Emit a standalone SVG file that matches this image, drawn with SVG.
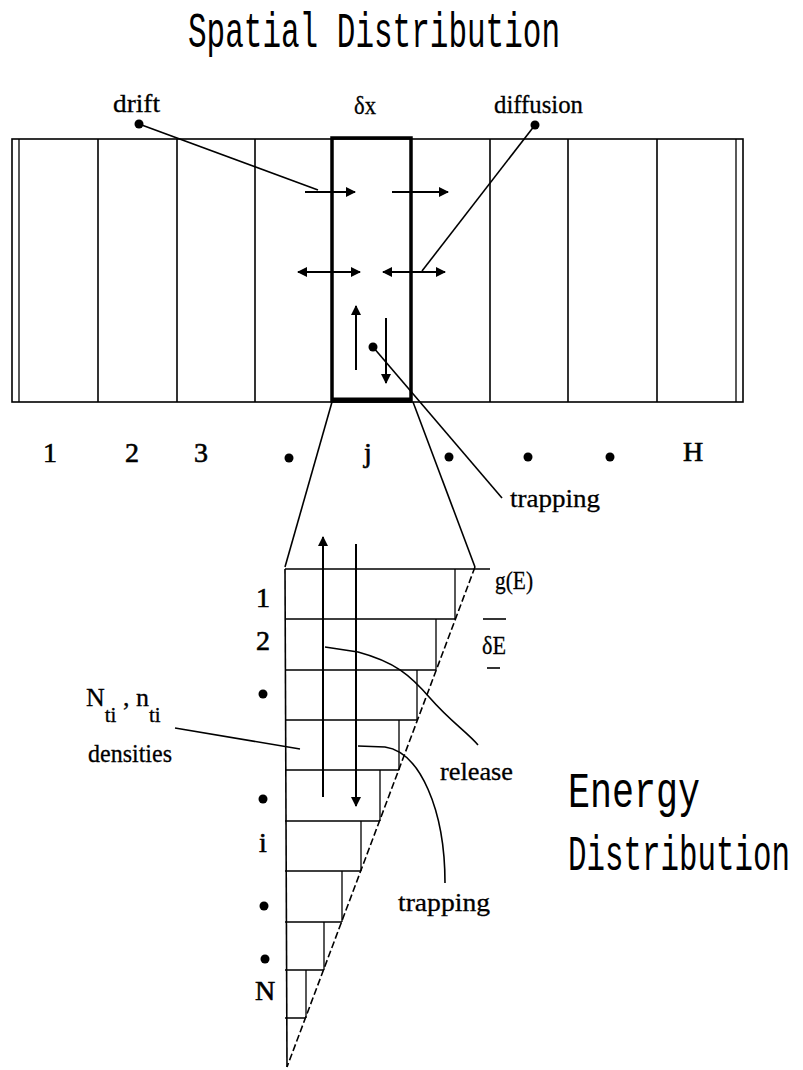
<svg xmlns="http://www.w3.org/2000/svg" width="803" height="1070" viewBox="0 0 803 1070">
<style>
.ln{stroke:#000;stroke-width:1.6;fill:none}
.thin{stroke:#000;stroke-width:1.3;fill:none}
.bold{stroke:#000;stroke-width:3.5;fill:none}
.dash{stroke:#000;stroke-width:1.6;fill:none;stroke-dasharray:7 3}
.lab{font-family:"Liberation Serif","DejaVu Serif",serif;font-size:26px;fill:#000;stroke:#000;stroke-width:0.3}
.num{font-family:"Liberation Serif","DejaVu Serif",serif;font-size:28px;fill:#000;stroke:#000;stroke-width:0.6}
.big{font-family:"Liberation Mono","DejaVu Sans Mono",monospace;font-size:31px;fill:#000}
.arr{stroke:#000;stroke-width:2;fill:none}
</style>
<defs>
<marker id="ah" viewBox="0 0 10 10" refX="9" refY="5" markerWidth="11" markerHeight="10" markerUnits="userSpaceOnUse" orient="auto-start-reverse">
<path d="M0,0 L10,5 L0,10 Z" fill="#000"/>
</marker>
</defs>
<rect width="803" height="1070" fill="#fff"/>

<g id="titles">
<text class="big" transform="translate(188,47) scale(1,1.6)" x="0" y="0" textLength="372" lengthAdjust="spacingAndGlyphs">Spatial Distribution</text>
<text class="big" transform="translate(568,807) scale(1,1.6)" x="0" y="0" textLength="132" lengthAdjust="spacingAndGlyphs">Energy</text>
<text class="big" transform="translate(568,870) scale(1,1.6)" x="0" y="0" textLength="222" lengthAdjust="spacingAndGlyphs">Distribution</text>
</g>

<g id="spatial-bar">
<rect class="ln" x="12" y="139" width="731" height="263"/>
<line class="thin" x1="19" y1="139" x2="19" y2="402"/>
<line class="thin" x1="736" y1="139" x2="736" y2="402"/>
<line class="ln" x1="98" y1="139" x2="98" y2="402"/>
<line class="ln" x1="177" y1="139" x2="177" y2="402"/>
<line class="ln" x1="255" y1="139" x2="255" y2="402"/>
<line class="ln" x1="490" y1="139" x2="490" y2="402"/>
<line class="ln" x1="568" y1="139" x2="568" y2="402"/>
<line class="ln" x1="657" y1="139" x2="657" y2="402"/>
</g>

<g id="cell-j">
<rect class="bold" x="332" y="138" width="79" height="263"/>
<line stroke="#000" stroke-width="5" x1="332" y1="400" x2="411" y2="400"/>
<line class="arr" x1="305" y1="192" x2="355" y2="192" marker-end="url(#ah)"/>
<line class="arr" x1="392" y1="192" x2="448" y2="192" marker-end="url(#ah)"/>
<line class="arr" x1="298" y1="272" x2="360" y2="272" marker-start="url(#ah)" marker-end="url(#ah)"/>
<line class="arr" x1="383" y1="272" x2="445" y2="272" marker-start="url(#ah)" marker-end="url(#ah)"/>
<line class="arr" x1="356" y1="370" x2="356" y2="306" marker-end="url(#ah)"/>
<line class="arr" x1="386" y1="318" x2="386" y2="383" marker-end="url(#ah)"/>
<text class="lab" x="354" y="114" textLength="22" lengthAdjust="spacingAndGlyphs">δx</text>
</g>

<g id="cell-labels">
<text class="num" x="50" y="462" text-anchor="middle">1</text>
<text class="num" x="132" y="462" text-anchor="middle">2</text>
<text class="num" x="201" y="462" text-anchor="middle">3</text>
<circle cx="289" cy="458" r="4.5"/>
<text class="num" x="368" y="462" text-anchor="middle">j</text>
<circle cx="449" cy="457" r="4.5"/>
<circle cx="528" cy="457" r="4.5"/>
<circle cx="610" cy="457" r="4.5"/>
<text class="num" x="693" y="461" text-anchor="middle">H</text>
</g>

<g id="label-drift">
<text class="lab" x="113" y="112" textLength="47" lengthAdjust="spacingAndGlyphs">drift</text>
<circle cx="139" cy="124" r="4.5"/>
</g>
<g id="label-diffusion">
<text class="lab" x="494" y="113" textLength="89" lengthAdjust="spacingAndGlyphs">diffusion</text>
<circle cx="535" cy="125" r="4.5"/>
</g>
<g id="label-trapping-top">
<circle cx="373" cy="347" r="4.5"/>
<text class="lab" x="510" y="507" textLength="90" lengthAdjust="spacingAndGlyphs">trapping</text>
</g>

<g id="energy-distribution">
<line class="ln" x1="285" y1="569" x2="490" y2="569"/>
<line class="ln" x1="285" y1="569" x2="287" y2="1067"/>
<path class="ln" d="M285,619H455M285,670H436M285,720H417M285,770H399M285,821H380M285,871H361M285,922H342M285,970H324M285,1018H305"/>
<path class="thin" d="M455,569V619M436,619V670M417,670V720M399,720V770M380,770V821M361,821V871M342,871V922M324,922V970M306,970V1018"/>
<line class="dash" x1="475" y1="567" x2="287" y2="1067"/>
<line class="arr" x1="323" y1="797" x2="323" y2="537" marker-end="url(#ah)"/>
<line class="arr" x1="356" y1="544" x2="356" y2="806" marker-end="url(#ah)"/>
<text class="lab" x="495" y="589" font-size="28" textLength="38" lengthAdjust="spacingAndGlyphs">g(E)</text>
<text class="lab" x="482" y="654" textLength="24" lengthAdjust="spacingAndGlyphs">δE</text>
<line class="ln" x1="483" y1="619" x2="506" y2="619" stroke-width="2"/>
<line class="ln" x1="487" y1="668" x2="500" y2="668" stroke-width="2"/>
</g>

<g id="level-labels">
<text class="num" x="263" y="607" text-anchor="middle">1</text>
<text class="num" x="263" y="650" text-anchor="middle">2</text>
<circle cx="263" cy="694" r="4.5"/>
<circle cx="263" cy="799" r="4.5"/>
<text class="num" x="263" y="852" text-anchor="middle">i</text>
<circle cx="264" cy="906" r="4.5"/>
<circle cx="265" cy="959" r="4.5"/>
<text class="num" x="265" y="1000" text-anchor="middle">N</text>
</g>

<g id="label-densities">
<text class="lab" x="86" y="706">N<tspan font-size="21" dy="16">ti</tspan><tspan dy="-16"> , n</tspan><tspan font-size="21" dy="16">ti</tspan></text>
<text class="lab" x="88" y="762" textLength="84" lengthAdjust="spacingAndGlyphs">densities</text>
</g>
<g id="label-release">
<text class="lab" x="440" y="780" textLength="73" lengthAdjust="spacingAndGlyphs">release</text>
</g>
<g id="label-trapping-bottom">
<text class="lab" x="398" y="911" textLength="92" lengthAdjust="spacingAndGlyphs">trapping</text>
</g>

<g id="connectors">
<line class="ln" x1="139" y1="124" x2="318" y2="190"/>
<line class="ln" x1="535" y1="125" x2="422" y2="271"/>
<line class="ln" x1="373" y1="347" x2="502" y2="498"/>
<line class="ln" x1="332" y1="402" x2="285" y2="567"/>
<line class="ln" x1="413" y1="402" x2="475" y2="567"/>
<line class="ln" x1="175" y1="728" x2="300" y2="749"/>
<path class="ln" d="M325,647 L358,652 C395,662 410,675 430,698 S468,733 478,745"/>
<path class="ln" d="M358,746 L385,747 C420,752 445,810 445,883"/>
</g>
</svg>
